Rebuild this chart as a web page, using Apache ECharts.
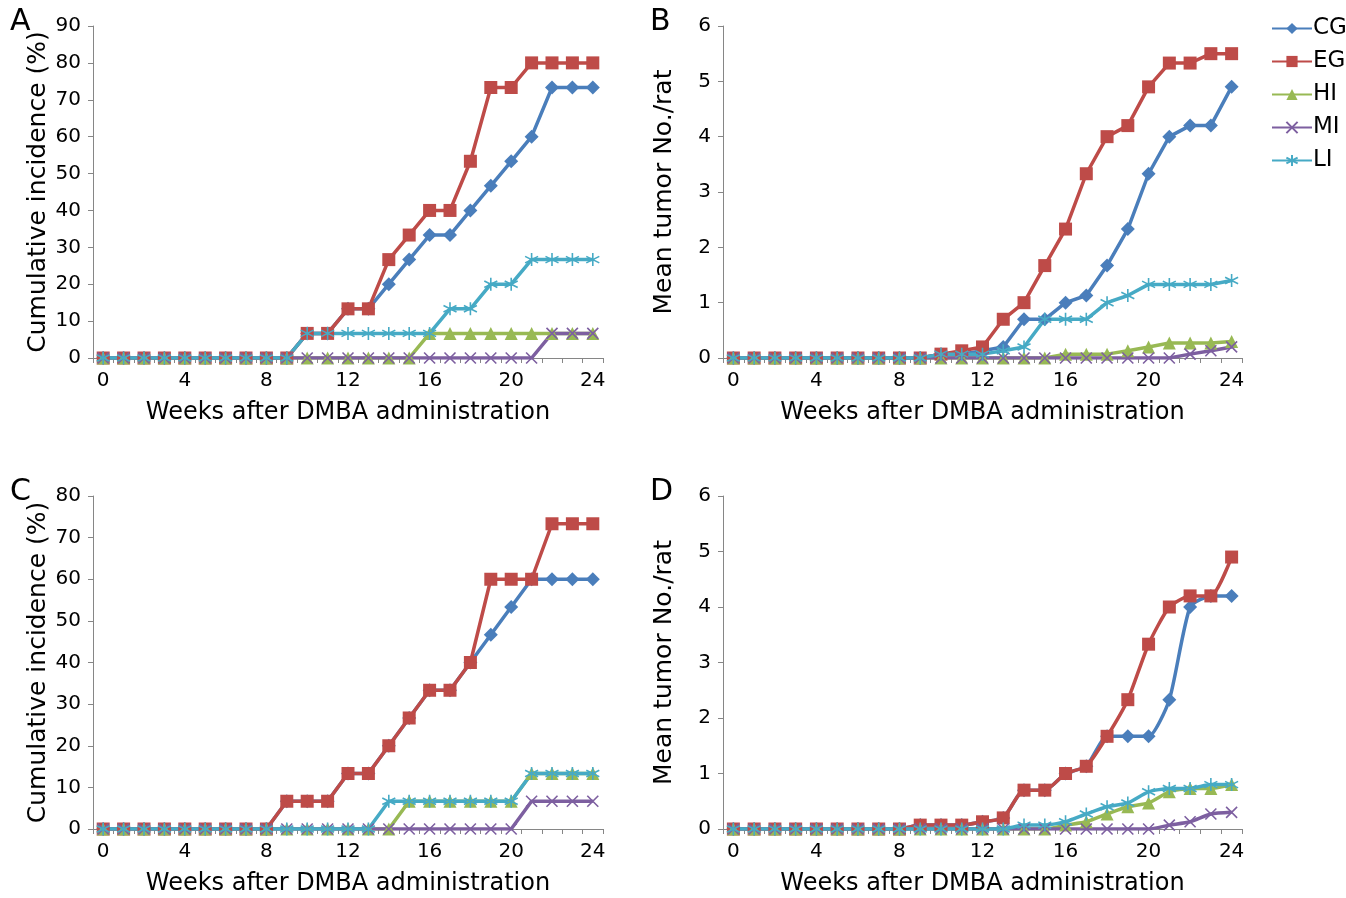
<!DOCTYPE html>
<html><head><meta charset="utf-8">
<script src="https://cdn.jsdelivr.net/npm/echarts@6/dist/echarts.min.js"></script>
<style>html,body{margin:0;padding:0;background:#fff}#c{width:1346px;height:898px}</style>
</head><body><div id="c"></div>
<script>
const weeks = Array.from({length:25},(_,i)=>String(i));
const seriesNames = ['CG','EG','HI','MI','LI'];
const colors = ['#4A7EBB','#BE4B48','#98B954','#7D5FA0','#46AAC5'];

// Panel A: cumulative incidence (%)
const A_CG = [0,0,0,0,0,0,0,0,0,0,6.67,6.67,13.33,13.33,20,26.67,33.33,33.33,40,46.67,53.33,60,73.33,73.33,73.33];
const A_EG = [0,0,0,0,0,0,0,0,0,0,6.67,6.67,13.33,13.33,26.67,33.33,40,40,53.33,73.33,73.33,80,80,80,80];
const A_HI = [0,0,0,0,0,0,0,0,0,0,0,0,0,0,0,0,6.67,6.67,6.67,6.67,6.67,6.67,6.67,6.67,6.67];
const A_MI = [0,0,0,0,0,0,0,0,0,0,0,0,0,0,0,0,0,0,0,0,0,0,6.67,6.67,6.67];
const A_LI = [0,0,0,0,0,0,0,0,0,0,6.67,6.67,6.67,6.67,6.67,6.67,6.67,13.33,13.33,20,20,26.67,26.67,26.67,26.67];
// Panel B: mean tumor No./rat
const B_CG = [0,0,0,0,0,0,0,0,0,0,0.07,0.07,0.13,0.2,0.7,0.7,1.0,1.13,1.67,2.33,3.33,4.0,4.2,4.2,4.9];
const B_EG = [0,0,0,0,0,0,0,0,0,0,0.07,0.13,0.2,0.7,1.0,1.67,2.33,3.33,4.0,4.2,4.9,5.33,5.33,5.5,5.5];
const B_HI = [0,0,0,0,0,0,0,0,0,0,0,0,0,0,0,0,0.07,0.07,0.07,0.13,0.2,0.27,0.27,0.27,0.3];
const B_MI = [0,0,0,0,0,0,0,0,0,0,0,0,0,0,0,0,0,0,0,0,0,0,0.07,0.13,0.2];
const B_LI = [0,0,0,0,0,0,0,0,0,0,0.07,0.07,0.07,0.13,0.2,0.7,0.7,0.7,1.0,1.13,1.33,1.33,1.33,1.33,1.4];
// Panel C: cumulative incidence (%)
const C_CG = [0,0,0,0,0,0,0,0,0,6.67,6.67,6.67,13.33,13.33,20,26.67,33.33,33.33,40,46.67,53.33,60,60,60,60];
const C_EG = [0,0,0,0,0,0,0,0,0,6.67,6.67,6.67,13.33,13.33,20,26.67,33.33,33.33,40,60,60,60,73.33,73.33,73.33];
const C_HI = [0,0,0,0,0,0,0,0,0,0,0,0,0,0,0,6.67,6.67,6.67,6.67,6.67,6.67,13.33,13.33,13.33,13.33];
const C_MI = [0,0,0,0,0,0,0,0,0,0,0,0,0,0,0,0,0,0,0,0,0,6.67,6.67,6.67,6.67];
const C_LI = [0,0,0,0,0,0,0,0,0,0,0,0,0,0,6.67,6.67,6.67,6.67,6.67,6.67,6.67,13.33,13.33,13.33,13.33];
// Panel D: mean tumor No./rat
const D_CG = [0,0,0,0,0,0,0,0,0,0.07,0.07,0.07,0.13,0.2,0.7,0.7,1.0,1.13,1.67,1.67,1.67,2.33,4.0,4.2,4.2];
const D_EG = [0,0,0,0,0,0,0,0,0,0.07,0.07,0.07,0.13,0.2,0.7,0.7,1.0,1.13,1.67,2.33,3.33,4.0,4.2,4.2,4.9];
const D_HI = [0,0,0,0,0,0,0,0,0,0,0,0,0,0,0,0,0.07,0.13,0.27,0.4,0.47,0.67,0.73,0.73,0.8];
const D_MI = [0,0,0,0,0,0,0,0,0,0,0,0,0,0,0,0,0,0,0,0,0,0.07,0.13,0.27,0.3];
const D_LI = [0,0,0,0,0,0,0,0,0,0,0,0,0,0,0.07,0.07,0.13,0.27,0.4,0.47,0.67,0.73,0.73,0.8,0.8];

const panels = [
  {letter:'A', data:[A_CG,A_EG,A_HI,A_MI,A_LI], yMax:90, yInt:10, yName:'Cumulative incidence (%)'},
  {letter:'B', data:[B_CG,B_EG,B_HI,B_MI,B_LI], yMax:6, yInt:1, yName:'Mean tumor No./rat'},
  {letter:'C', data:[C_CG,C_EG,C_HI,C_MI,C_LI], yMax:80, yInt:10, yName:'Cumulative incidence (%)'},
  {letter:'D', data:[D_CG,D_EG,D_HI,D_MI,D_LI], yMax:6, yInt:1, yName:'Mean tumor No./rat'}
];
const xName = 'Weeks after DMBA administration';

const FONT = '"DejaVu Sans", Verdana, sans-serif';
const grids = [
  {left:93, top:26, width:510, height:332},
  {left:723, top:26, width:519, height:332},
  {left:93, top:496, width:510, height:333},
  {left:723, top:496, width:519, height:333}
];
const letterPos = [[10,7],[650,7],[10,477],[650,477]];

const symbols = [
  {symbol:'diamond', size:14},
  {symbol:'rect', size:13},
  {symbol:'triangle', size:13},
  {symbol:'path://M0,0L10,10M10,0L0,10', size:11},
  {symbol:'path://M5,0L5,10M0.7,2.5L9.3,7.5M9.3,2.5L0.7,7.5', size:13}
];

const axisLine = {show:true, lineStyle:{color:'#868686', width:1}};
const xAxes = [], yAxes = [], series = [], graphics = [];
panels.forEach((p, pi) => {
  xAxes.push({
    type:'category', gridIndex:pi, data:weeks, boundaryGap:true,
    axisLine, axisTick:{show:true, interval:0, length:5, lineStyle:{color:'#868686'}},
    axisLabel:{interval:3, color:'#000', fontSize:20, fontFamily:FONT, margin:13},
    name:xName, nameLocation:'middle', nameGap:43,
    nameTextStyle:{color:'#000', fontSize:24, fontFamily:FONT},
    splitLine:{show:false}
  });
  yAxes.push({
    type:'value', gridIndex:pi, min:0, max:p.yMax, interval:p.yInt,
    axisLine, axisTick:{show:true, length:5, lineStyle:{color:'#868686'}},
    axisLabel:{color:'#000', fontSize:20, fontFamily:FONT, margin:12},
    name:p.yName, nameLocation:'middle', nameGap: pi%2===0 ? 42 : 46,
    nameTextStyle:{color:'#000', fontSize:25, fontFamily:FONT},
    splitLine:{show:false}
  });
  p.data.forEach((arr, si) => {
    const isPath = si >= 3;
    series.push({
      type:'line', name:seriesNames[si], xAxisIndex:pi, yAxisIndex:pi, data:arr,
      symbol:symbols[si].symbol, symbolSize:symbols[si].size, showAllSymbol:true,
      smooth: pi===3 ? 0.2 : false,
      color:colors[si],
      lineStyle:{color:colors[si], width:3.5},
      itemStyle: isPath ? {color:colors[si], borderColor:colors[si], borderWidth:1.6} : {color:colors[si]},
      emphasis:{disabled:true},
      animation:false
    });
  });
  graphics.push({type:'text', left:letterPos[pi][0], top:letterPos[pi][1],
    style:{text:p.letter, fontSize:30, fontFamily:FONT, fill:'#000'}});
});

const chart = echarts.init(document.getElementById('c'), null, {renderer:'canvas'});
chart.setOption({
  animation:false,
  backgroundColor:'#fff',
  grid:grids,
  xAxis:xAxes, yAxis:yAxes, series,
  legend:{
    data:seriesNames, orient:'vertical', left:1266, top:12, itemGap:10,
    itemWidth:40, itemHeight:14,
    textStyle:{color:'#000', fontSize:23, fontFamily:FONT, padding:[0,0,0,-4]}
  },
  graphic:graphics
});
</script>
</body></html>
